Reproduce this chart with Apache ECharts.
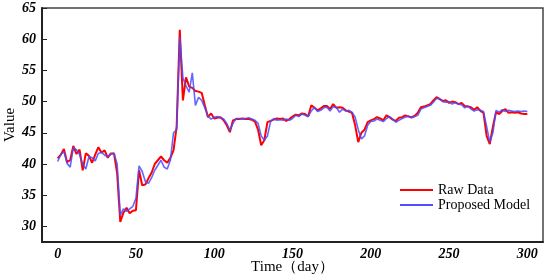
<!DOCTYPE html>
<html>
<head>
<meta charset="utf-8">
<script src="https://cdn.jsdelivr.net/npm/echarts@6/dist/echarts.min.js"></script>
<style>
	html, body { margin: 0; padding: 0; background: #fff; }
	#chart { width: 550px; height: 280px; }
</style>
</head>
<body>
<div id="chart"></div>
<script>
// days sampled every 2 days, 0..300
const days = [];
for (let t = 0; t <= 300; t += 2) days.push(t);

const rawData = [
	40.9, 41.5, 42.4, 40.3, 40.6, 42.9, 41.6, 42.3, 39.0, 41.7,
	41.3, 40.2, 41.5, 42.7, 41.8, 42.2, 41.0, 41.7, 41.7, 38.5,
	30.7, 32.2, 33.0, 32.1, 32.5, 32.6, 39.0, 36.6, 36.7, 37.7,
	38.6, 40.0, 40.6, 41.2, 40.6, 40.2, 41.0, 42.2, 46.0, 61.5,
	50.2, 53.9, 52.4, 52.2, 51.7, 51.6, 51.4, 49.4, 47.5, 48.1,
	47.3, 47.4, 47.5, 47.0, 46.2, 45.1, 47.0, 47.2, 47.2, 47.3,
	47.2, 47.2, 47.1, 46.8, 45.5, 43.0, 43.8, 46.7, 46.9, 47.1,
	47.3, 47.2, 47.3, 46.9, 47.2, 47.6, 47.9, 47.8, 48.1, 48.0,
	47.6, 49.4, 49.0, 48.6, 48.9, 49.3, 49.3, 48.8, 49.6, 49.0,
	49.1, 49.0, 48.6, 48.4, 48.2, 46.2, 43.5, 45.0, 45.5, 46.7,
	47.0, 47.2, 47.5, 47.3, 47.0, 47.8, 47.5, 47.1, 46.9, 47.4,
	47.5, 47.8, 47.6, 47.5, 47.7, 48.2, 49.1, 49.2, 49.4, 49.6,
	50.2, 50.7, 50.4, 50.1, 50.2, 49.8, 50.0, 49.9, 49.6, 49.8,
	49.3, 49.2, 49.1, 48.7, 49.1, 48.5, 48.2, 44.5, 43.2, 46.0,
	48.3, 48.0, 48.5, 48.8, 48.2, 48.3, 48.2, 48.3, 48.1, 48.0,
	48.0
];

const modelData = [
	40.4, 41.5, 42.0, 40.1, 39.5, 42.6, 42.3, 41.5, 40.0, 39.2,
	41.2, 41.0, 40.5, 41.7, 41.9, 41.4, 41.2, 41.6, 41.7, 40.0,
	31.8, 32.8, 32.4, 32.8, 33.2, 34.5, 39.7, 38.8, 37.2, 36.9,
	37.8, 39.0, 39.8, 40.6, 39.5, 39.2, 40.6, 45.0, 45.5, 60.3,
	53.8, 52.5, 51.5, 54.6, 49.4, 50.7, 50.2, 49.0, 47.7, 47.2,
	47.5, 47.6, 47.4, 47.2, 46.5, 45.4, 46.5, 47.3, 47.3, 47.2,
	47.3, 47.4, 47.2, 47.0, 46.5, 44.5, 43.8, 44.5, 46.8, 47.3,
	47.0, 47.1, 47.0, 47.2, 47.0, 47.3, 47.8, 47.6, 48.0, 47.8,
	47.6, 48.5, 49.1, 48.4, 48.6, 49.0, 49.1, 48.5, 49.2, 49.1,
	48.3, 48.8, 48.5, 48.6, 48.3, 47.5, 45.5, 44.0, 44.5, 46.2,
	46.8, 46.9, 47.2, 47.0, 46.8, 47.3, 47.6, 47.2, 46.7, 47.0,
	47.3, 47.5, 47.7, 47.4, 47.6, 47.8, 48.8, 49.0, 49.2, 49.4,
	49.9, 50.5, 50.5, 50.0, 49.9, 50.0, 49.6, 49.8, 49.6, 49.5,
	49.0, 49.3, 48.8, 48.5, 48.7, 48.6, 48.4, 46.0, 43.5, 45.0,
	48.6, 48.3, 48.7, 48.4, 48.6, 48.5, 48.4, 48.5, 48.4, 48.5,
	48.4
];

const xTicks = [0, 50, 100, 150, 200, 250, 300];
const yTicks = [30, 35, 40, 45, 50, 55, 60, 65];

const serif = '"Liberation Serif", "Times New Roman", serif';
const tickFont = {
	fontFamily: serif,
	fontStyle: 'italic',
	fontWeight: 'bold',
	fontSize: 14,
	color: '#000',
};

const chart = echarts.init(document.getElementById('chart'));
chart.setOption({
	animation: false,
	grid: {
		left: 42,
		right: 7,
		top: 8,
		bottom: 38,
		outerBoundsMode: 'none',
		show: true,
		borderColor: '#444',
		borderWidth: 1.5,
	},
	legend: {
		orient: 'vertical',
		left: 395,
		top: 178,
		icon: 'rect',
		itemWidth: 33,
		itemHeight: 2,
		itemGap: 1,
		textStyle: { fontFamily: serif, fontSize: 14, color: '#000' },
		data: ['Raw Data', 'Proposed Model'],
	},
	xAxis: {
		type: 'value',
		min: -10,
		max: 310,
		name: 'Time（day）',
		nameLocation: 'middle',
		nameGap: 18,
		nameMoveOverlap: false,
		nameTextStyle: { fontFamily: serif, fontSize: 15, color: '#000' },
		axisLine: { onZero: false, lineStyle: { color: '#222', width: 2 } },
		axisTick: { show: false },
		splitLine: { show: false },
		axisLabel: Object.assign({ customValues: xTicks, margin: 5 }, tickFont),
	},
	yAxis: {
		type: 'value',
		min: 27.5,
		max: 65,
		name: 'Value',
		nameLocation: 'middle',
		nameGap: 24,
		nameMoveOverlap: false,
		nameTextStyle: { fontFamily: serif, fontSize: 15, color: '#000' },
		axisLine: { show: true, onZero: false, lineStyle: { color: '#222', width: 2 } },
		axisTick: { show: true, inside: true, length: 5, customValues: yTicks, lineStyle: { color: '#222' } },
		splitLine: { show: false },
		axisLabel: Object.assign({ customValues: yTicks, margin: 6 }, tickFont),
	},
	series: [{
		name: 'Raw Data',
		type: 'line',
		data: days.map((t, i) => [t, rawData[i]]),
		symbol: 'none',
		color: '#ff0000',
		lineStyle: { color: '#ff0000', width: 2 },
	}, {
		name: 'Proposed Model',
		type: 'line',
		data: days.map((t, i) => [t, modelData[i]]),
		symbol: 'none',
		color: '#5050ff',
		lineStyle: { color: '#4a4aff', width: 1.6, opacity: 0.85 },
	}],
});
</script>
</body>
</html>
